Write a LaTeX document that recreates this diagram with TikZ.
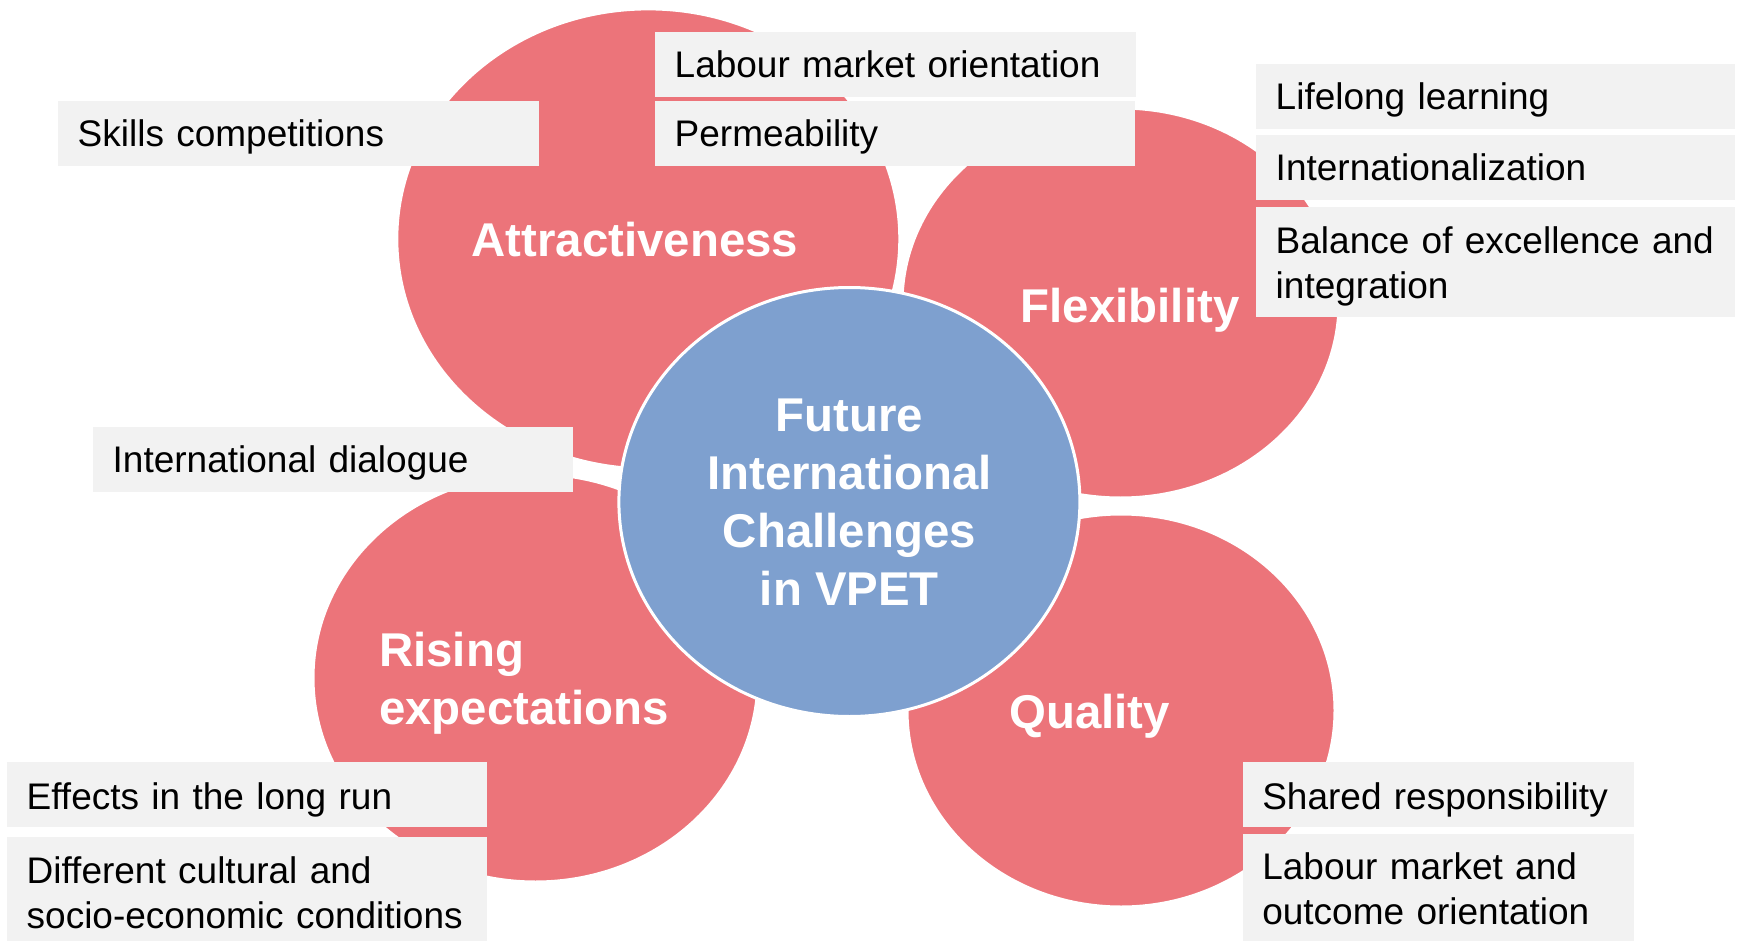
\documentclass[tikz,border=0pt]{standalone}
\usepackage{fontspec}
\setmainfont{Liberation Sans}
\usetikzlibrary{shapes.geometric}
\definecolor{petal}{RGB}{236,116,122}
\definecolor{core}{RGB}{126,160,207}
\definecolor{boxgray}{RGB}{242,242,242}
\begin{document}
\begin{tikzpicture}[x=1pt,y=-1pt,
  petalshape/.style={ellipse, fill=petal, draw=white, line width=3pt, inner sep=0pt},
  hubshape/.style={ellipse, fill=core, draw=white, line width=3pt, inner sep=0pt,
    text=white, align=center, font=\fontsize{47.4}{57.8}\selectfont\bfseries},
  petallabel/.style={inner sep=0pt, text=white, font=\fontsize{47.4}{57.8}\selectfont\bfseries},
  itembox/.style={fill=boxgray, inner xsep=19.5pt, inner ysep=0pt, anchor=north west,
    align=left, text=black, font=\fontsize{37}{45}\selectfont},
  oneline/.style={itembox, text height=26.5pt, text depth=0pt},
  lowline/.style={itembox, text height=31pt, text depth=0pt}]
\useasboundingbox[fill=white] (0,0) rectangle (1742,941);

% four petals around the hub
\node[petalshape, minimum width=503pt, minimum height=460pt] (attr) at (648.3,238.9) {};
\node[petalshape, minimum width=437pt, minimum height=390pt] (flex) at (1120.5,303) {};
\node[petalshape, minimum width=445pt, minimum height=408pt] (rise) at (535.5,678) {};
\node[petalshape, minimum width=428pt, minimum height=393pt] (qual) at (1121,710.5) {};

% central topic
\node[hubshape, minimum width=461pt, minimum height=429pt] (hub) at (849.4,502)
  {Future\\International\\Challenges\\in VPET};

% petal titles
\node[petallabel, anchor=base] (attrlabel) at (635,257) {Attractiveness};
\node[petallabel, anchor=base] (flexlabel) at (1130,322) {Flexibility};
\node[petallabel, anchor=base] (quallabel) at (1089.5,728) {Quality};
\node[petallabel, anchor=west, align=left] (riselabel) at (379,683) {Rising\\expectations};

% attractiveness items
\node[oneline, text width=442pt, minimum height=64.7pt] (skills) at (58,101) {Skills competitions};
\node[oneline, text width=442pt, minimum height=64.4pt] (labour) at (655,32.3) {Labour market orientation};
\node[oneline, text width=441pt, minimum height=64.7pt] (perm) at (655,101) {Permeability};

% flexibility items
\node[oneline, text width=440pt, minimum height=64.7pt] (lifelong) at (1256,64) {Lifelong learning};
\node[oneline, text width=440pt, minimum height=65pt] (intl) at (1256,135) {Internationalization};
\node[itembox, text width=440pt, minimum height=110pt] (balance) at (1256,206.7)
  {\rule{0pt}{35pt}\mbox{Balance of excellence and}\\integration};

% rising expectations items
\node[oneline, text width=441pt, minimum height=64.7pt] (dialogue) at (93,427) {International dialogue};
\node[lowline, text width=441pt, minimum height=65pt] (effects) at (7,761.7) {Effects in the long run};
\node[itembox, text width=441pt, minimum height=112.6pt] (cultural) at (7,836.7)
  {Different cultural and\\\mbox{socio-economic conditions}};

% quality items
\node[lowline, text width=352.4pt, minimum height=65pt] (shared) at (1242.6,761.7) {Shared responsibility};
\node[itembox, text width=352.4pt, minimum height=111.4pt] (outcome) at (1242.6,833.3)
  {Labour market and\\outcome orientation};
\end{tikzpicture}
\end{document}
